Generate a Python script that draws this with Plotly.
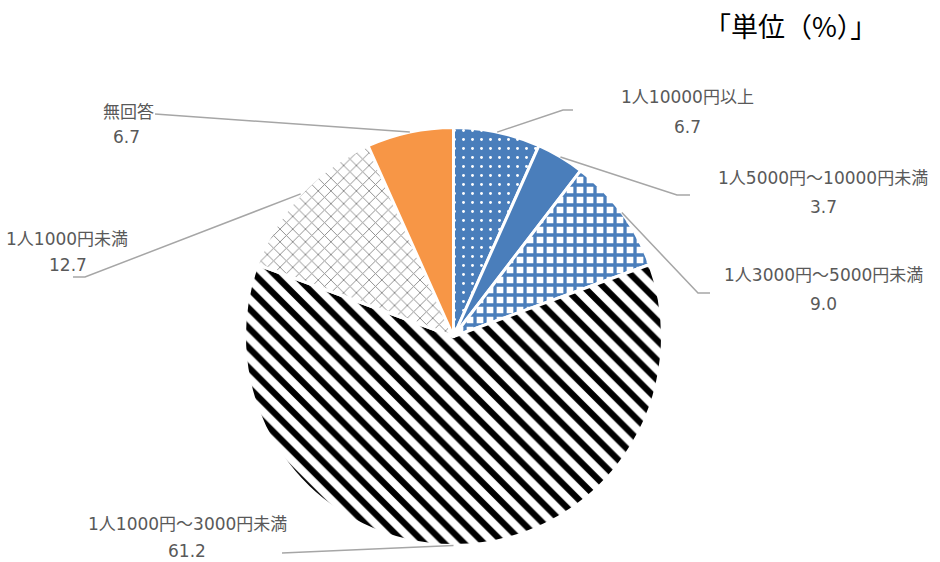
import math
import plotly.graph_objects as go

# ---- data ----
categories = ["1人10000円以上", "1人5000円～10000円未満", "1人3000円～5000円未満",
              "1人1000円～3000円未満", "1人1000円未満", "無回答"]
values = [6.7, 3.7, 9.0, 61.2, 12.7, 6.7]
value_labels = ["6.7", "3.7", "9.0", "61.2", "12.7", "6.7"]
unit_title = "「単位（%）」"

# ---- styles ----
BLUE = "#4A7EBB"
ORANGE = "#F79646"
pat_shapes = [".", "", "+", "\\", "x", ""]
pat_bg = [BLUE, BLUE, "white", "white", "white", ORANGE]
pat_fg = ["white", BLUE, BLUE, "black", "#8C8C8C", ORANGE]
pat_size = [9, 8, 10, 14, 9, 8]
pat_solid = [0.08, 0.3, 0.55, 0.45, 0.2, 0.3]

W, H = 940, 562
CX, CY, R = 453.5, 336.5, 209.0

# label layout (pixel positions): label center, value center, leader elbow / end
label_pos = [(687, 97), (823, 178), (823, 275), (187, 524), (67, 239), (128, 112)]
value_pos = [(687, 127), (823, 207), (823, 304), (187, 551), (68, 265), (126, 137)]
leader_pts = [
    [(563, 110), (573, 110)],
    [(677, 195), (690, 195)],
    [(698, 293), (710, 293)],
    [(282, 553)],
    [(85, 277), (73, 277)],
    [(155, 114)],
]

def px(x):
    return x / W

def py(y):
    return 1 - y / H

fig = go.Figure()
fig.add_trace(go.Pie(
    labels=categories,
    values=values,
    sort=False,
    direction="clockwise",
    rotation=0,
    textinfo="none",
    hoverinfo="label+value",
    showlegend=False,
    domain=dict(x=[px(CX - R), px(CX + R)], y=[py(CY + R), py(CY - R)]),
    marker=dict(
        colors=pat_bg,
        line=dict(color="white", width=3),
        pattern=dict(shape=pat_shapes, bgcolor=pat_bg, fgcolor=pat_fg,
                     size=pat_size, solidity=pat_solid, fillmode="replace"),
    ),
))

font_lbl = dict(family="DejaVu Sans, Noto Sans CJK JP", size=17, color="#595959")
annotations = []
shapes = []
total = sum(values)
cum = 0.0
for i, v in enumerate(values):
    mid = (cum + v / 2) / total * 2 * math.pi
    cum += v
    ax = CX + R * math.sin(mid)
    ay = CY - R * math.cos(mid)
    pts = [(ax, ay)] + leader_pts[i]
    path = "M " + " L ".join(f"{px(x):.5f},{py(y):.5f}" for x, y in pts)
    shapes.append(dict(type="path", xref="paper", yref="paper", path=path,
                       line=dict(color="#A6A6A6", width=1.5)))
    lx, ly = label_pos[i]
    vx, vy = value_pos[i]
    annotations.append(dict(x=px(lx), y=py(ly), xref="paper", yref="paper",
                            text=categories[i], showarrow=False, font=font_lbl,
                            xanchor="center", yanchor="middle"))
    annotations.append(dict(x=px(vx), y=py(vy), xref="paper", yref="paper",
                            text=value_labels[i], showarrow=False, font=font_lbl,
                            xanchor="center", yanchor="middle"))

annotations.append(dict(x=px(790), y=py(25), xref="paper", yref="paper",
                        text=unit_title, showarrow=False,
                        font=dict(family="Noto Sans CJK JP", size=27, color="#000000"),
                        xanchor="center", yanchor="middle"))

fig.update_layout(
    width=W, height=H,
    margin=dict(l=0, r=0, t=0, b=0),
    paper_bgcolor="white", plot_bgcolor="white",
    annotations=annotations, shapes=shapes,
)

fig.write_html("out.html", config={"displayModeBar": False},
               post_script="document.body.style.margin='0';document.body.style.overflow='hidden';")
